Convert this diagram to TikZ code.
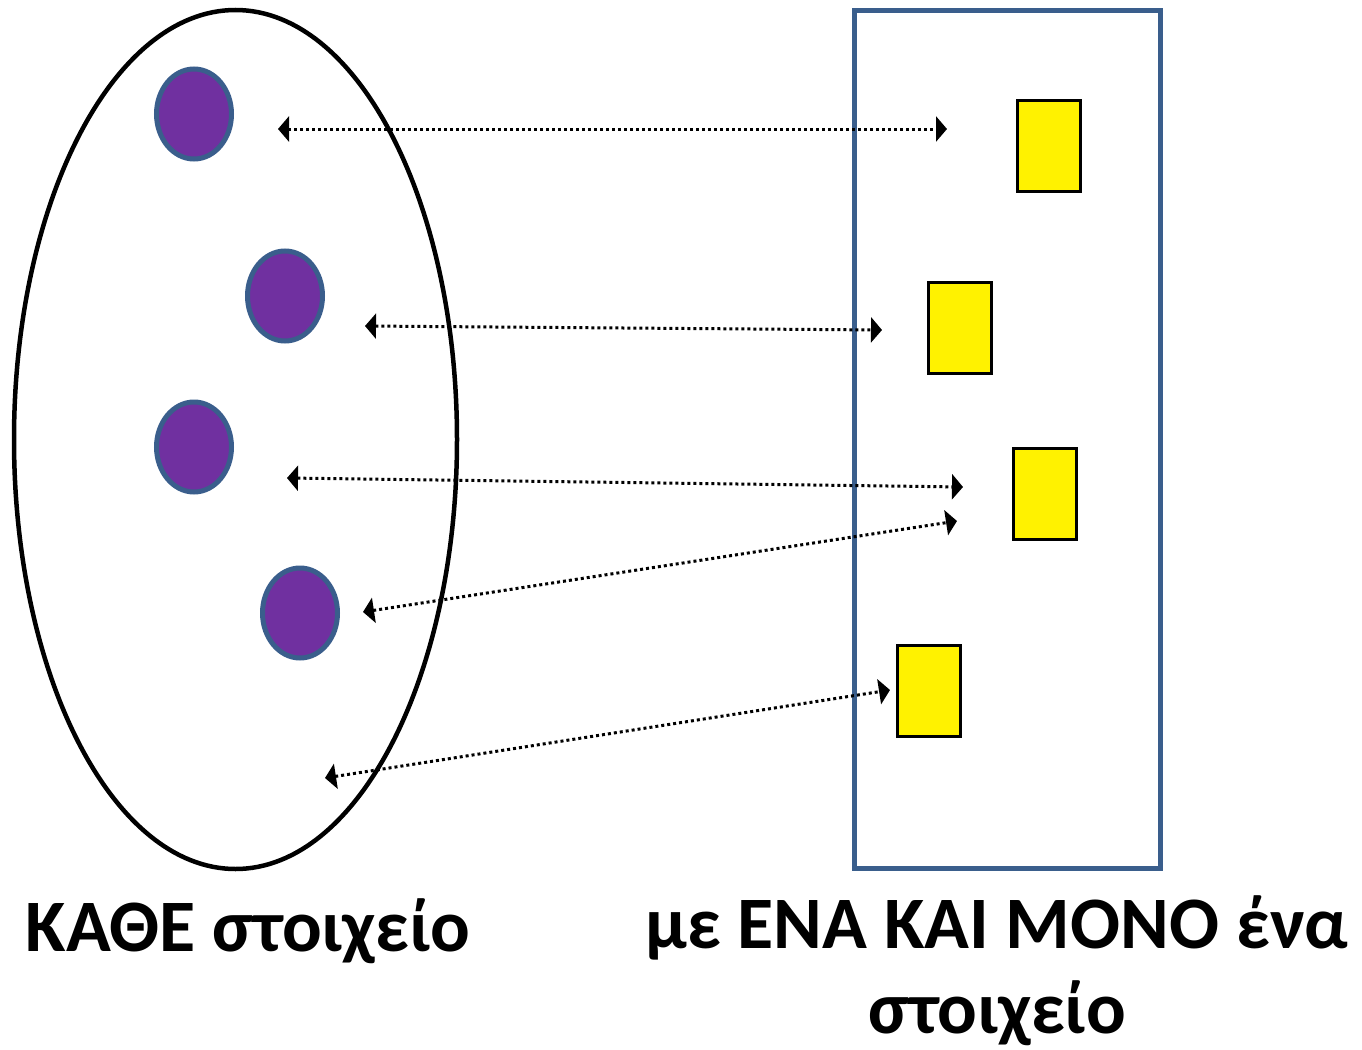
\documentclass[tikz,border=0pt]{standalone}
\usepackage{fontspec}
\setmainfont{Carlito}
\usetikzlibrary{shapes.geometric,arrows.meta}
\definecolor{setpurple}{HTML}{7030A0}
\definecolor{setblue}{HTML}{3A5E8C}
\begin{document}
\begin{tikzpicture}[x=1pt,y=-1pt,
  domainset/.style={draw=black, line width=4.5pt, ellipse, minimum width=443pt, minimum height=859pt, inner sep=0pt},
  codomainset/.style={draw=setblue, line width=5pt, rectangle, minimum width=306pt, minimum height=857pt, inner sep=0pt},
  elem/.style={draw=setblue, fill=setpurple, line width=5pt, ellipse, minimum width=75pt, minimum height=90pt, inner sep=0pt},
  img/.style={draw=black, fill=yellow, line width=3pt, rectangle, minimum width=63pt, minimum height=91pt, inner sep=0pt},
  pairing/.style={line width=3pt, dash pattern=on 3pt off 3pt,
    {Triangle[length=11pt,width=25pt]}-{Triangle[length=11pt,width=25pt]}},
  caption/.style={font=\fontsize{74}{89}\selectfont\bfseries, inner sep=0pt, anchor=base}
]
\useasboundingbox (0,0) rectangle (1362,1049);

% the two sets
\node[domainset] (A) at (235.5,439.5) {};
\node[codomainset] (B) at (1007,439.5) {};

% elements of the first set
\node[elem] (a1) at (194,114) {};
\node[elem] (a2) at (285,296) {};
\node[elem] (a3) at (194,447) {};
\node[elem] (a4) at (300,613) {};

% elements of the second set
\node[img] (b1) at (1049,146) {};
\node[img] (b2) at (960,328) {};
\node[img] (b3) at (1045,494) {};
\node[img] (b4) at (929,691) {};

% ends of the correspondences
\coordinate (p1) at (278,129);
\coordinate (q1) at (947,129);
\coordinate (p2) at (365,326);
\coordinate (q2) at (882,330);
\coordinate (p3) at (287,478);
\coordinate (q3) at (963,487);
\coordinate (p4) at (363,612);
\coordinate (q4) at (957,521);
\coordinate (p5) at (325,778);
\coordinate (q5) at (890,690);

\draw[pairing] (p1) -- (q1);
\draw[pairing] (p2) -- (q2);
\draw[pairing] (p3) -- (q3);
\draw[pairing] (p4) -- (q4);
\draw[pairing] (p5) -- (q5);

% captions
\node[caption] (la) at (248,951) {ΚΑΘΕ στοιχείο};
\node[caption] (lb1) at (997,948) {με ΕΝΑ ΚΑΙ ΜΟΝΟ ένα};
\node[caption] (lb2) at (997,1033) {στοιχείο};
\end{tikzpicture}
\end{document}
